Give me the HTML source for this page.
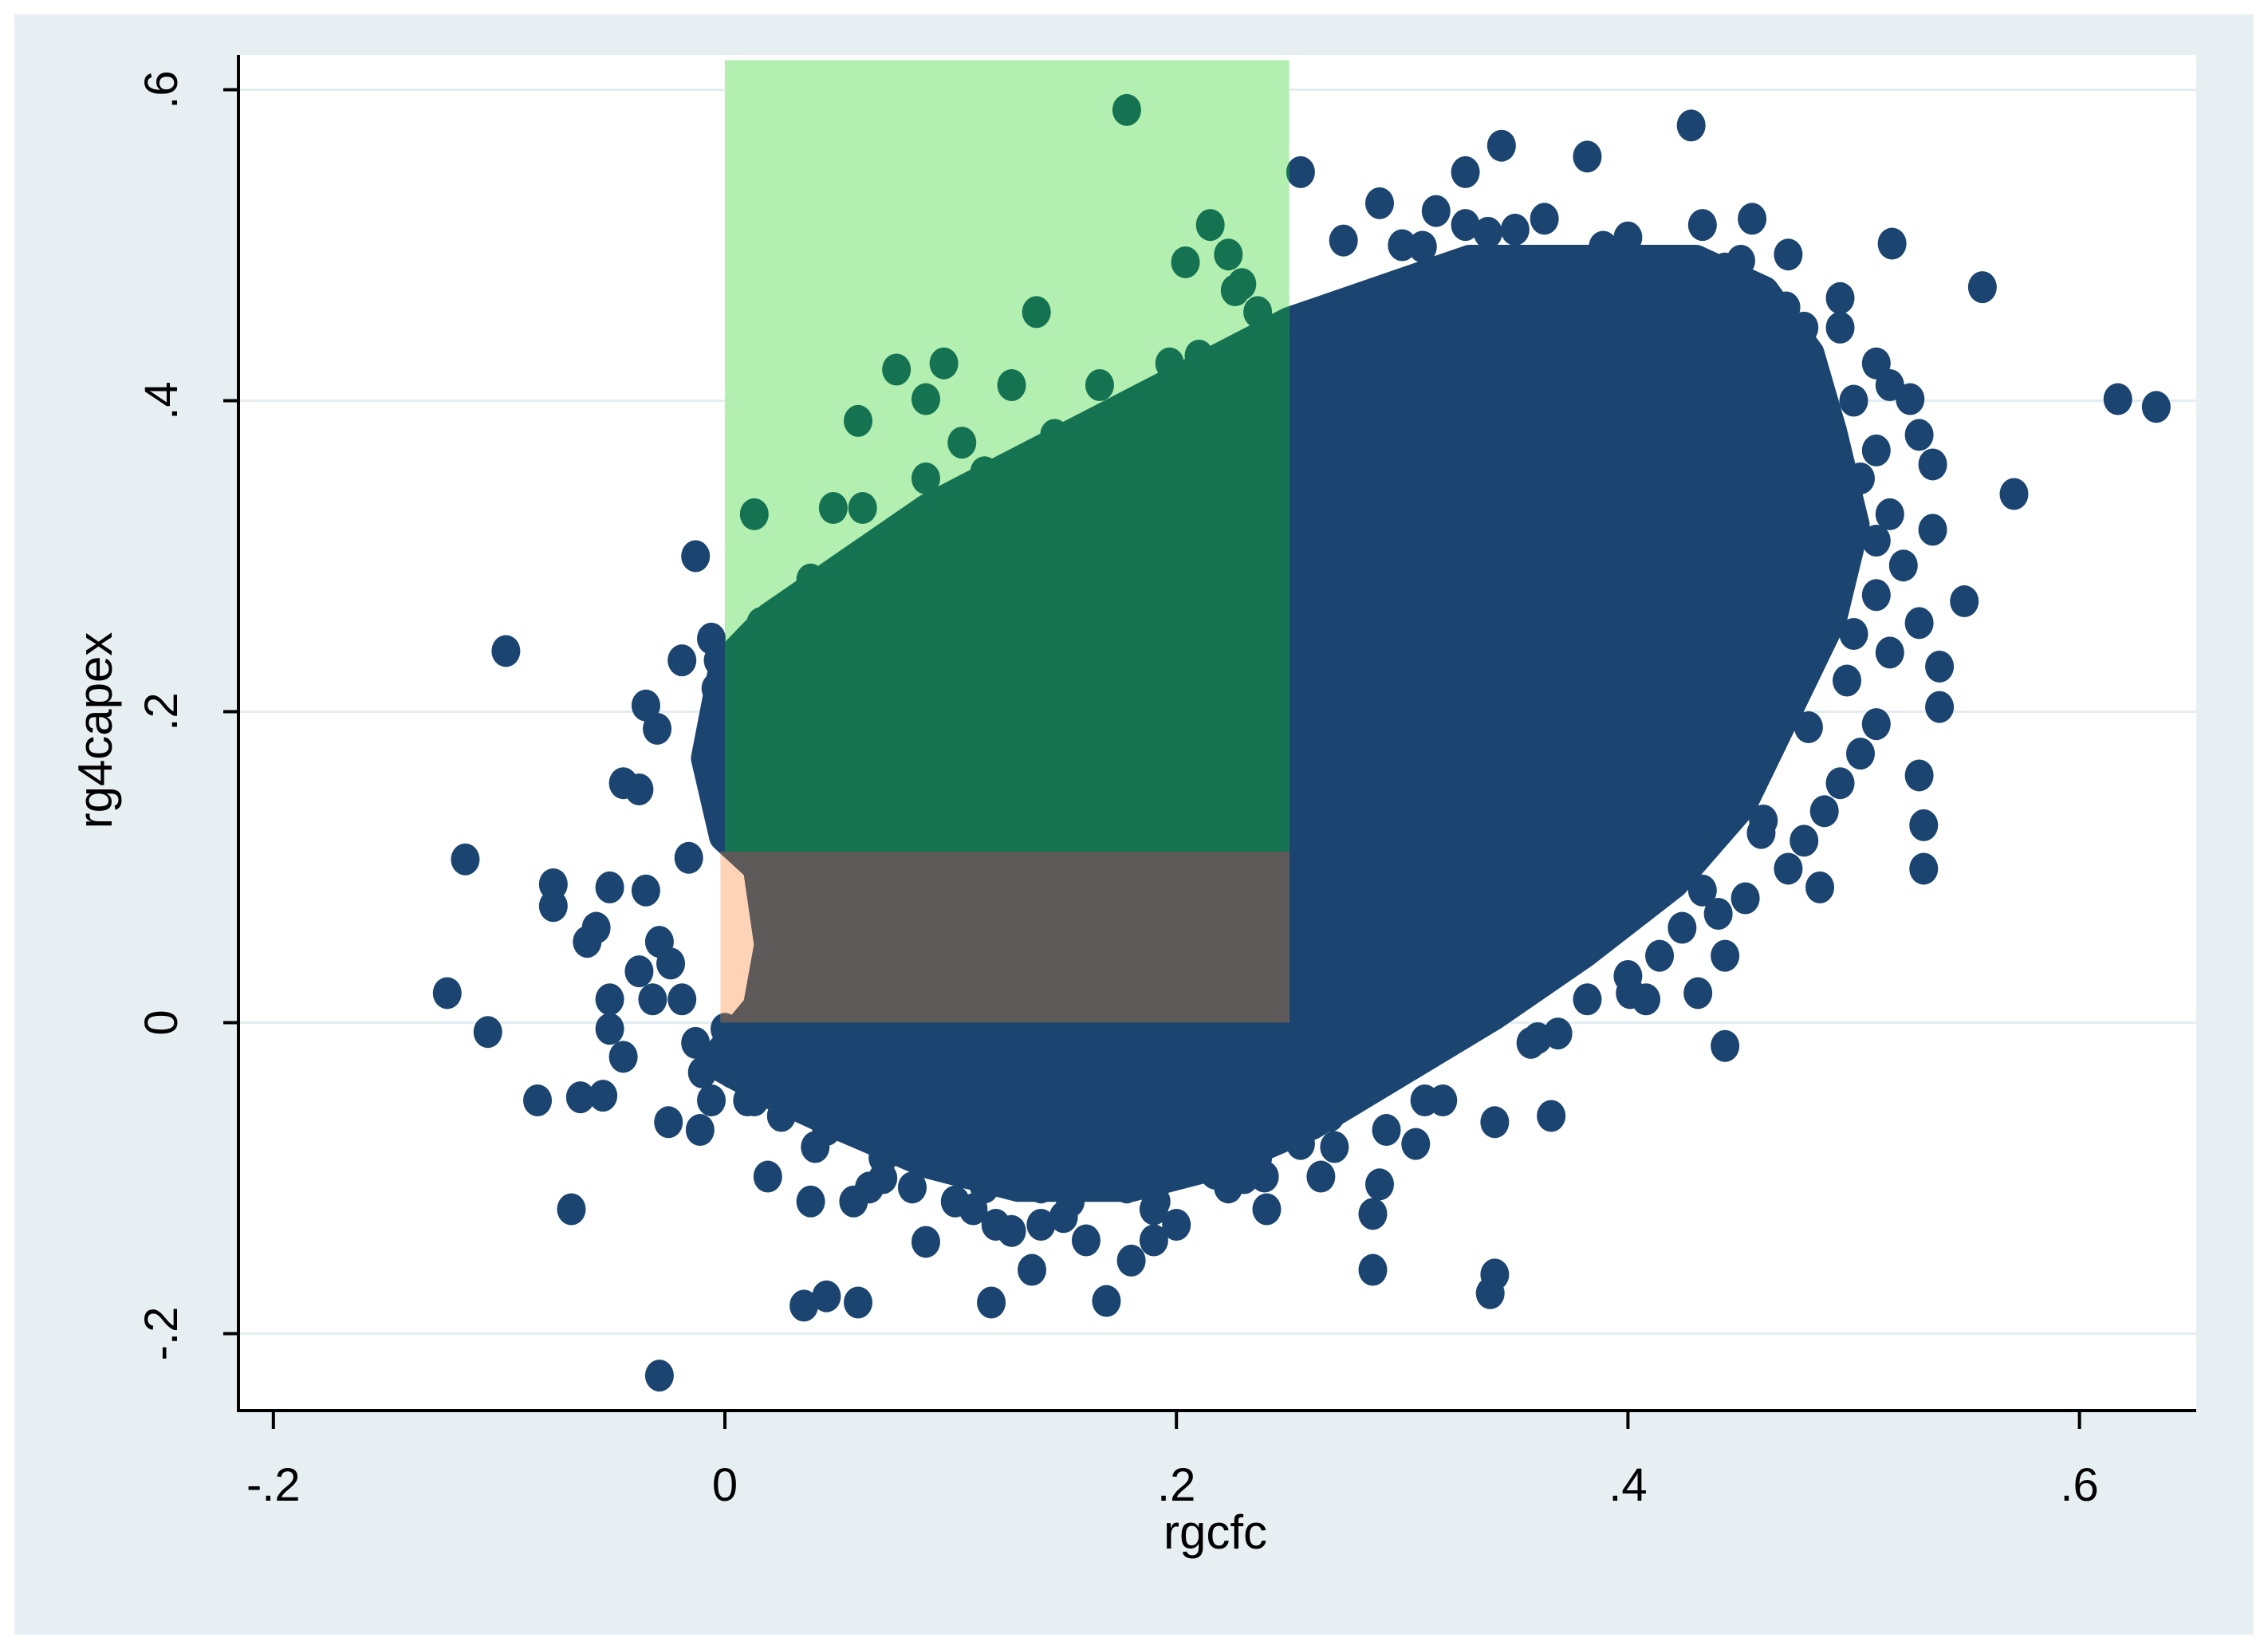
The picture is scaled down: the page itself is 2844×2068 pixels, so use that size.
<!DOCTYPE html>
<html><head><meta charset="utf-8"><title>rg4capex vs rgcfc</title>
<style>
html,body{margin:0;padding:0;background:#fff;width:2844px;height:2068px;overflow:hidden}
svg{display:block}
text{font-family:"Liberation Sans",sans-serif;fill:#000}
</style></head>
<body>
<svg id="chart" width="2844" height="2068" viewBox="0 0 2844 2068" xmlns="http://www.w3.org/2000/svg">
<rect x="18" y="18" width="2808" height="2032" fill="#e8eff2"/>
<rect x="299" y="69" width="2455" height="1700" fill="#ffffff"/>
<g id="grid"></g>
<defs>
<clipPath id="clipGreen"><rect id="cg" x="0" y="0" width="0" height="0"/></clipPath>
<clipPath id="clipGray"><rect id="cgr" x="0" y="0" width="0" height="0"/></clipPath>
</defs>
<g id="cloudNavy"></g>
<g clip-path="url(#clipGreen)">
  <rect id="greenBg" fill="#b2efb1"/>
  <g id="cloudGreen"></g>
</g>
<g clip-path="url(#clipGray)">
  <rect id="peachBg" fill="#ffd3b5"/>
  <g id="cloudGray"></g>
</g>
<line x1="299" y1="69" x2="299" y2="1771" stroke="#000" stroke-width="4"/>
<line x1="297" y1="1769" x2="2754" y2="1769" stroke="#000" stroke-width="4"/>
<g id="axes"></g>
<text x="1524" y="1942" font-size="60" text-anchor="middle">rgcfc</text>
<text x="0" y="0" font-size="60" text-anchor="middle" transform="translate(140,916) rotate(-90)">rg4capex</text>
</svg>
<script>
const xTicks = [-0.2, 0, 0.2, 0.4, 0.6];
const xTickLabels = ["-.2", "0", ".2", ".4", ".6"];
const yTicks = [-0.2, 0, 0.2, 0.4, 0.6];
const yTickLabels = ["-.2", "0", ".2", ".4", ".6"];
// dense core outline (data coords)
const coreX = [0.0,0.02,0.05,0.09,0.13,0.17,0.21,0.25,0.29,0.33,0.38,0.43,0.46,0.48,0.49,0.50,0.49,0.47,0.45,0.42,0.38,0.34,0.30,0.26,0.22,0.18,0.13,0.09,0.05,0.02,-0.005,0.015,0.02,0.015,0.0,-0.008];
const coreY = [0.23,0.26,0.29,0.33,0.36,0.39,0.42,0.45,0.47,0.49,0.49,0.49,0.47,0.43,0.38,0.32,0.26,0.20,0.14,0.09,0.045,0.005,-0.03,-0.065,-0.09,-0.105,-0.105,-0.09,-0.065,-0.045,-0.025,0.01,0.05,0.10,0.12,0.17];
// individual points outside the dense core
const ptX = [0.178,0.255,0.328,0.315,0.344,0.382,0.428,0.517,0.557,0.617,0.634,0.571,0.549,0.538,0.538,0.529,0.531,0.531,0.485,0.443,0.443,0.431,0.401,0.369,0.366,0.341,0.341,0.339,0.287,0.290,0.287,0.264,0.239,0.223,0.180,0.169,0.136,0.118,0.089,0.059,0.045,0.035,0.019,-0.029,-0.068,-0.083,-0.064,-0.054,-0.011,-0.025,-0.105,-0.123,-0.115,-0.076,-0.076,-0.061,-0.057,-0.051,-0.035,-0.016,-0.045,-0.038,-0.035,-0.030,-0.019,-0.006,-0.003,-0.004,-0.006,-0.013,-0.097,-0.051,-0.051,-0.045,-0.032,-0.019,-0.010,-0.006,-0.013,-0.038,-0.029,-0.024,
0.013,0.048,0.061,0.059,0.076,0.097,0.089,0.105,0.089,0.099,0.127,0.138,0.166,0.185,0.204,0.215,0.223,0.226,0.236,0.242,0.016,0.011,0.038,0.051,0.068,0.064,0.038,0.025,0.006,0.006,0.016,0.032,0.064,0.076,0.115,0.146,0.166,0.197,0.210,0.229,
0.290,0.309,0.274,0.328,0.338,0.363,0.389,0.420,0.433,0.443,0.455,0.471,0.478,0.494,0.494,0.510,0.516,0.525,0.529,0.510,0.503,0.516,0.497,0.535,0.535,0.522,0.510,0.529,0.516,0.497,0.510,0.503,0.494,0.487,0.478,0.471,0.459,0.452,0.433,0.424,0.414,0.408,0.382,0.357,0.318,0.306,0.293,0.268,0.255,0.236,0.217,0.191,0.178,0.153,0.140,0.127,0.115,0.102,0.083,0.070,0.057,0.038,0.045,0.025,0.013,0.064,0.089,0.000,0.003,0.010,
0.30,0.35,0.40,0.45,0.47,0.50,0.51,0.50,0.48,0.46,0.44,0.40,0.36,0.31,0.27,0.23,0.19,0.15,0.11,0.07,0.04,0.14,0.19,0.24,0.20,0.16,0.12];
const ptY = [0.587,0.547,0.547,0.522,0.564,0.557,0.577,0.501,0.473,0.401,0.396,0.340,0.271,0.229,0.203,0.159,0.127,0.099,0.087,0.043,-0.015,0.019,0.019,-0.007,-0.060,-0.064,-0.162,-0.174,-0.159,-0.104,-0.123,-0.099,-0.099,-0.106,-0.153,-0.179,-0.159,-0.180,-0.141,-0.180,-0.176,-0.182,-0.099,-0.227,-0.120,-0.050,-0.048,-0.047,-0.069,-0.064,-0.006,0.019,0.105,0.089,0.075,0.052,0.061,0.087,0.085,0.106,0.154,0.150,0.204,0.189,0.233,0.247,0.233,0.215,0.171,0.300,0.239,0.015,-0.004,-0.022,0.015,0.015,-0.032,-0.050,-0.013,0.033,0.052,0.038,
0.327,0.331,0.331,0.387,0.420,0.424,0.401,0.373,0.350,0.327,0.410,0.457,0.410,0.378,0.489,0.513,0.494,0.471,0.457,0.433,0.257,0.224,0.285,0.275,0.271,0.247,0.229,0.201,0.182,0.154,0.136,0.173,0.303,0.303,0.354,0.378,0.387,0.424,0.429,0.475,
0.527,0.499,0.503,0.513,0.508,0.517,0.499,0.485,0.513,0.485,0.517,0.494,0.447,0.466,0.447,0.424,0.410,0.401,0.378,0.368,0.350,0.327,0.336,0.359,0.317,0.294,0.275,0.257,0.238,0.220,0.192,0.173,0.154,0.136,0.117,0.099,0.122,0.080,0.085,0.061,0.043,0.015,0.015,-0.013,-0.050,-0.078,-0.069,-0.060,-0.078,-0.087,-0.097,-0.115,-0.106,-0.115,-0.106,-0.134,-0.106,-0.115,-0.106,-0.087,-0.115,-0.115,-0.069,-0.060,-0.050,-0.106,-0.087,-0.004,-0.032,-0.050,
0.50,0.51,0.505,0.49,0.46,0.40,0.31,0.25,0.19,0.13,0.07,0.03,-0.01,-0.05,-0.08,-0.10,-0.12,-0.125,-0.12,-0.10,-0.08,-0.13,-0.14,-0.12,-0.13,-0.14,-0.13];
const regionGreen = {x0:0, x1:0.25, y0:0.11, y1:0.619};
const regionGray = {x0:-0.002, x1:0.25, y0:0, y1:0.11};

const NS = "http://www.w3.org/2000/svg";
function sx(v){ return 909 + v*2831; }
function sy(v){ return 1282.5 - v*1950; }
function mk(tag, attrs, parent){
  const e = document.createElementNS(NS, tag);
  for (const k in attrs) e.setAttribute(k, attrs[k]);
  parent.appendChild(e);
  return e;
}
const grid = document.getElementById('grid');
const axes = document.getElementById('axes');
yTicks.forEach((t,i)=>{
  const g = mk('line',{x1:301,x2:2754,y1:sy(t),y2:sy(t),stroke:'#e4edf1','stroke-width':3},grid);
  
  
  const tk = mk('line',{x1:280,x2:299,y1:sy(t),y2:sy(t),stroke:'#000','stroke-width':4},axes);
  
  
  const lb = mk('text',{x:0,y:0,'font-size':58,'text-anchor':'middle',transform:`translate(222,${sy(t)}) rotate(-90)`},axes);
  lb.textContent = yTickLabels[i];
  
  
});
xTicks.forEach((t,i)=>{
  const tk = mk('line',{x1:sx(t),x2:sx(t),y1:1769,y2:1792,stroke:'#000','stroke-width':4},axes);
  
  
  const lb = mk('text',{x:sx(t),y:1882,'font-size':58,'text-anchor':'middle'},axes);
  lb.textContent = xTickLabels[i];
  
  
});
function drawCloud(parent, color){
  let d = '';
  coreX.forEach((v,i)=>{ d += (i?'L':'M') + sx(v).toFixed(1) + ' ' + sy(coreY[i]).toFixed(1); });
  const p = mk('path',{d:d+'Z',fill:color,stroke:color,'stroke-width':40,'stroke-linejoin':'round'},parent);
  
  
  ptX.forEach((v,i)=>{
    const e = mk('ellipse',{cx:sx(v),cy:sy(ptY[i]),rx:18,ry:20,fill:color},parent);
    
    
  });
}
function setRect(el, r){
  el.setAttribute('x', sx(r.x0)); el.setAttribute('y', sy(r.y1));
  el.setAttribute('width', sx(r.x1)-sx(r.x0)); el.setAttribute('height', sy(r.y0)-sy(r.y1));
}
drawCloud(document.getElementById('cloudNavy'), '#1b4570');
setRect(document.getElementById('cg'), regionGreen);
setRect(document.getElementById('greenBg'), regionGreen);
drawCloud(document.getElementById('cloudGreen'), '#157352');
setRect(document.getElementById('cgr'), regionGray);
setRect(document.getElementById('peachBg'), regionGray);
drawCloud(document.getElementById('cloudGray'), '#5e5a5a');
</script>
</body></html>
